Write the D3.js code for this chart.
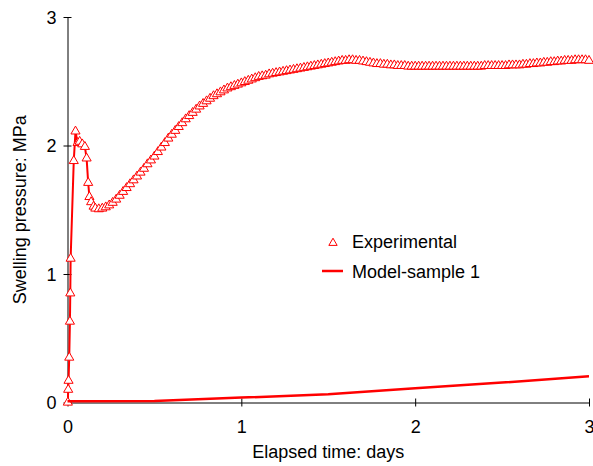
<!DOCTYPE html>
<html>
<head>
<meta charset="utf-8">
<script src="https://cdn.jsdelivr.net/npm/d3@7"></script>
<style>
  html, body { margin: 0; padding: 0; background: #fff; }
  #chart { width: 593px; height: 466px; }
  text { font-family: "Liberation Sans", Arial, sans-serif; fill: #000; }
</style>
</head>
<body>
<div id="chart"></div>
<script>
// ---- Data ----
// Experimental swelling pressure (days, MPa). Fast early rise, a dip, then plateau.
const expDays = [
  0.002, 0.004, 0.006, 0.010, 0.014, 0.016, 0.018, 0.036, 0.046, 0.058,
  0.070, 0.085, 0.100, 0.110, 0.119, 0.126, 0.136, 0.150, 0.160,
  0.18, 0.20, 0.22, 0.24, 0.26, 0.28, 0.30, 0.32, 0.34, 0.36, 0.38,
  0.40, 0.42, 0.44, 0.46, 0.48, 0.50, 0.52, 0.54, 0.56, 0.58,
  0.60, 0.62, 0.64, 0.66, 0.68, 0.70, 0.72, 0.74, 0.76, 0.78,
  0.80, 0.82, 0.84, 0.86, 0.88, 0.90, 0.92, 0.94, 0.96, 0.98,
  1.00, 1.02, 1.04, 1.06, 1.08, 1.10, 1.12, 1.14, 1.16, 1.18,
  1.20, 1.22, 1.24, 1.26, 1.28, 1.30, 1.32, 1.34, 1.36, 1.38,
  1.40, 1.42, 1.44, 1.46, 1.48, 1.50, 1.52, 1.54, 1.56, 1.58,
  1.60, 1.62, 1.64, 1.66, 1.68, 1.70, 1.72, 1.74, 1.76, 1.78,
  1.80, 1.82, 1.84, 1.86, 1.88, 1.90, 1.92, 1.94, 1.96, 1.98,
  2.00, 2.02, 2.04, 2.06, 2.08, 2.10, 2.12, 2.14, 2.16, 2.18,
  2.20, 2.22, 2.24, 2.26, 2.28, 2.30, 2.32, 2.34, 2.36, 2.38,
  2.40, 2.42, 2.44, 2.46, 2.48, 2.50, 2.52, 2.54, 2.56, 2.58,
  2.60, 2.62, 2.64, 2.66, 2.68, 2.70, 2.72, 2.74, 2.76, 2.78,
  2.80, 2.82, 2.84, 2.86, 2.88, 2.90, 2.92, 2.94, 2.96, 2.98,
  3.00
];
const expPressure = [
  0.00, 0.10, 0.17, 0.35, 0.63, 0.85, 1.12, 1.88, 2.11, 2.02,
  2.03, 2.01, 1.99, 1.90, 1.71, 1.60, 1.56, 1.525, 1.51,
  1.505, 1.51, 1.52, 1.535, 1.555, 1.58, 1.61, 1.64, 1.67, 1.70, 1.73,
  1.76, 1.79, 1.82, 1.855, 1.885, 1.915, 1.95, 1.985, 2.02, 2.055,
  2.085, 2.115, 2.145, 2.175, 2.205, 2.23, 2.255, 2.28, 2.305, 2.325,
  2.345, 2.365, 2.385, 2.40, 2.415, 2.43, 2.445, 2.455, 2.465, 2.475,
  2.485, 2.495, 2.505, 2.515, 2.525, 2.535, 2.54, 2.545, 2.555, 2.56,
  2.565, 2.57, 2.575, 2.58, 2.585, 2.59, 2.595, 2.60, 2.605, 2.61,
  2.615, 2.62, 2.625, 2.63, 2.635, 2.64, 2.645, 2.65, 2.655, 2.66,
  2.66, 2.665, 2.665, 2.66, 2.66, 2.655, 2.65, 2.645, 2.64, 2.635,
  2.635, 2.63, 2.63, 2.625, 2.625, 2.62, 2.62, 2.62, 2.615, 2.615,
  2.615, 2.615, 2.615, 2.615, 2.615, 2.615, 2.615, 2.615, 2.615, 2.615,
  2.615, 2.615, 2.615, 2.615, 2.615, 2.615, 2.615, 2.615, 2.615, 2.615,
  2.62, 2.62, 2.62, 2.62, 2.62, 2.62, 2.62, 2.625, 2.625, 2.625,
  2.625, 2.63, 2.63, 2.635, 2.635, 2.64, 2.64, 2.645, 2.645, 2.65,
  2.65, 2.655, 2.655, 2.66, 2.66, 2.66, 2.665, 2.665, 2.665, 2.665,
  2.66
];

// Model-sample 1 (days, MPa): stays near zero, slow rise.
const modelDays = [0, 0.5, 1, 1.5, 2, 2.5, 3];
const modelPressure = [0.01, 0.012, 0.038, 0.064, 0.11, 0.155, 0.204];

// Axis ticks and labels
const xTicks = [0, 1, 2, 3];
const yTicks = [0, 1, 2, 3];
const xTitle = 'Elapsed time: days';
const yTitle = 'Swelling pressure: MPa';
const legendLabels = ['Experimental', 'Model-sample 1'];

(function(){
  const width = 593, height = 466;
  const red = '#ff0000';
  const fontSize = '18px';
  const fontFamily = '"Liberation Sans", Arial, sans-serif';

  const svg = d3.select('#chart').append('svg')
    .attr('width', width).attr('height', height)
    .attr('viewBox', [0, 0, width, height]);

  const x = d3.scaleLinear().domain([0, 3]).range([67.5, 589]);
  const y = d3.scaleLinear().domain([0, 3]).range([402.5, 17]);

  // --- axes: ticks cross the axis line, as in the original Excel-style chart ---
  svg.append('g')
    .attr('transform', `translate(0,${y(0)})`)
    .call(d3.axisBottom(x).tickValues(xTicks).tickFormat(d3.format('d')).tickSizeOuter(0))
    .call(g => g.select('.domain').attr('stroke', '#000'))
    .call(g => g.selectAll('.tick line').attr('y1', -4).attr('y2', 4).attr('stroke', '#000'))
    .call(g => g.selectAll('.tick text').attr('y', 30).attr('dy', 0)
      .style('font-size', fontSize).style('font-family', fontFamily));

  svg.append('g')
    .attr('transform', `translate(${x(0)},0)`)
    .call(d3.axisLeft(y).tickValues(yTicks).tickFormat(d3.format('d')).tickSizeOuter(0))
    .call(g => g.select('.domain').attr('stroke', '#000'))
    .call(g => g.selectAll('.tick line').attr('x1', -4).attr('x2', 4).attr('stroke', '#000'))
    .call(g => g.selectAll('.tick text').attr('x', -11).attr('dy', '0.36em')
      .style('font-size', fontSize).style('font-family', fontFamily));

  // axis titles
  svg.append('text')
    .attr('x', (x(0) + x(3)) / 2).attr('y', 458)
    .attr('text-anchor', 'middle')
    .style('font-size', fontSize)
    .text(xTitle);

  svg.append('text')
    .attr('transform', `translate(26,${(y(0) + y(3)) / 2}) rotate(-90)`)
    .attr('text-anchor', 'middle')
    .style('font-size', fontSize)
    .text(yTitle);

  // clip so the curve ends don't spill past the plot
  svg.append('clipPath').attr('id', 'plotClip')
    .append('rect').attr('x', x(0) - 6).attr('y', 0).attr('width', x(3) - x(0) + 10).attr('height', y(0) + 6);

  const plot = svg.append('g').attr('clip-path', 'url(#plotClip)');

  const expData = expDays.map((d, i) => ({t: d, p: expPressure[i]}));
  const modelData = modelDays.map((d, i) => ({t: d, p: modelPressure[i]}));

  const line = d3.line().x(d => x(d.t)).y(d => y(d.p));

  // experimental trace joins the points, markers sit on top (white filled)
  plot.append('path')
    .datum(expData)
    .attr('d', line)
    .attr('fill', 'none')
    .attr('stroke', red)
    .attr('stroke-width', 2);

  const tri = d3.symbol().type(d3.symbolTriangle).size(36);
  plot.append('g')
    .selectAll('path')
    .data(expData)
    .join('path')
    .attr('d', tri)
    .attr('transform', d => `translate(${x(d.t)},${y(d.p)})`)
    .attr('fill', '#fff')
    .attr('stroke', red)
    .attr('stroke-width', 1);

  // model line
  plot.append('path')
    .datum(modelData)
    .attr('d', line)
    .attr('fill', 'none')
    .attr('stroke', red)
    .attr('stroke-width', 2.5);

  // --- legend ---
  const legend = svg.append('g');
  legend.append('path')
    .attr('d', d3.symbol().type(d3.symbolTriangle).size(30))
    .attr('transform', 'translate(333,243)')
    .attr('fill', '#fff')
    .attr('stroke', red)
    .attr('stroke-width', 1);
  legend.append('text').attr('x', 352).attr('y', 248).style('font-size', fontSize).text(legendLabels[0]);

  legend.append('line')
    .attr('x1', 322).attr('x2', 343).attr('y1', 271).attr('y2', 271)
    .attr('stroke', red).attr('stroke-width', 2.5);
  legend.append('text').attr('x', 352).attr('y', 278).style('font-size', fontSize).text(legendLabels[1]);
})();
</script>
</body>
</html>
